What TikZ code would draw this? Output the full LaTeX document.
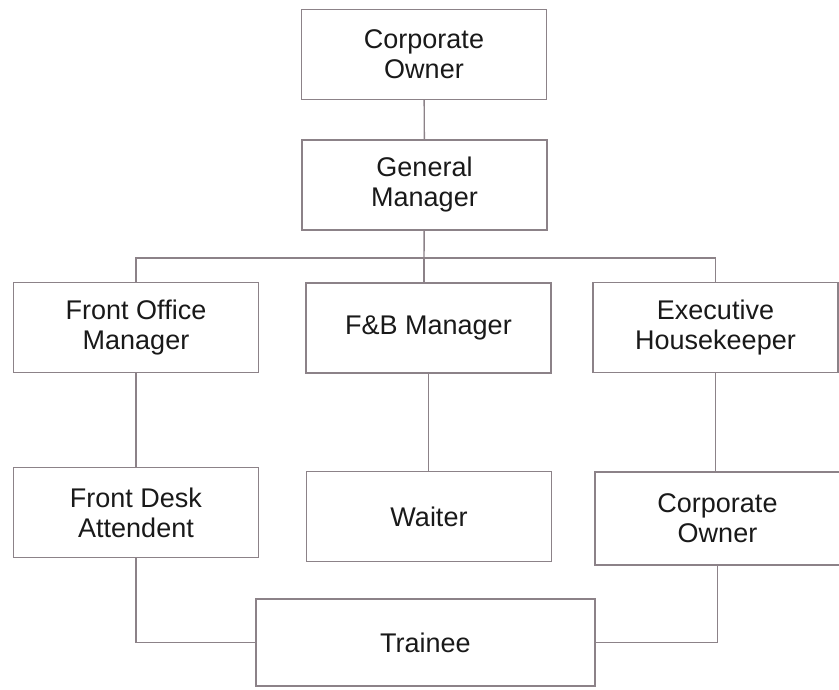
\documentclass[tikz,border=0pt]{standalone}
\usepackage{fontspec}
\setmainfont{Liberation Sans}
\usepackage{tikz}
\definecolor{line-grey}{RGB}{140,130,136}
\definecolor{ink}{RGB}{25,25,25}

\begin{document}
\begin{tikzpicture}[x=1pt, y=-1pt,
    nodes={draw=line-grey, line width=1.4pt, rectangle, align=center, text=ink,
           minimum width=245pt, minimum height=90pt, inner sep=2pt,
           font=\fontsize{27}{30}\selectfont},
    line width=1.4pt, draw=line-grey]
      \useasboundingbox (0,0) rectangle (839,689);

      \node (co1) at (424,54.5) {Corporate\\Owner};
      \node (gm) at (424.5,185) {General\\Manager};
      \node (fo) at (136,327.5) {Front Office\\Manager};
      \node (fb) at (428.5,328) {F\&B Manager};
      \node (hk) at (715.5,327.5) {Executive\\Housekeeper};
      \node (fd) at (136,512.5) {Front Desk\\Attendent};
      \node (wt) at (429,516.5) {Waiter};
      \node[minimum height=93pt] (co2) at (717.5,518.5) {Corporate\\Owner};
      \node[minimum width=339pt, minimum height=87pt] (tr) at (425.5,642.5) {Trainee};
      \coordinate (bus) at (424,258);

      \draw (co1) -- (gm);
      \draw (gm) -- (bus);
      \draw (fo.north) |- (bus) -| (hk.north);
      \draw (bus) -- (bus |- fb.north);
      \draw (fo) -- (fd);
      \draw (fb.south) -- (fb.south |- wt.north);
      \draw (hk.south) -- (hk.south |- co2.north);
      \draw (fd.south) |- (tr.west);
      \draw (co2.south) |- (tr.east);
    \end{tikzpicture}
\end{document}
